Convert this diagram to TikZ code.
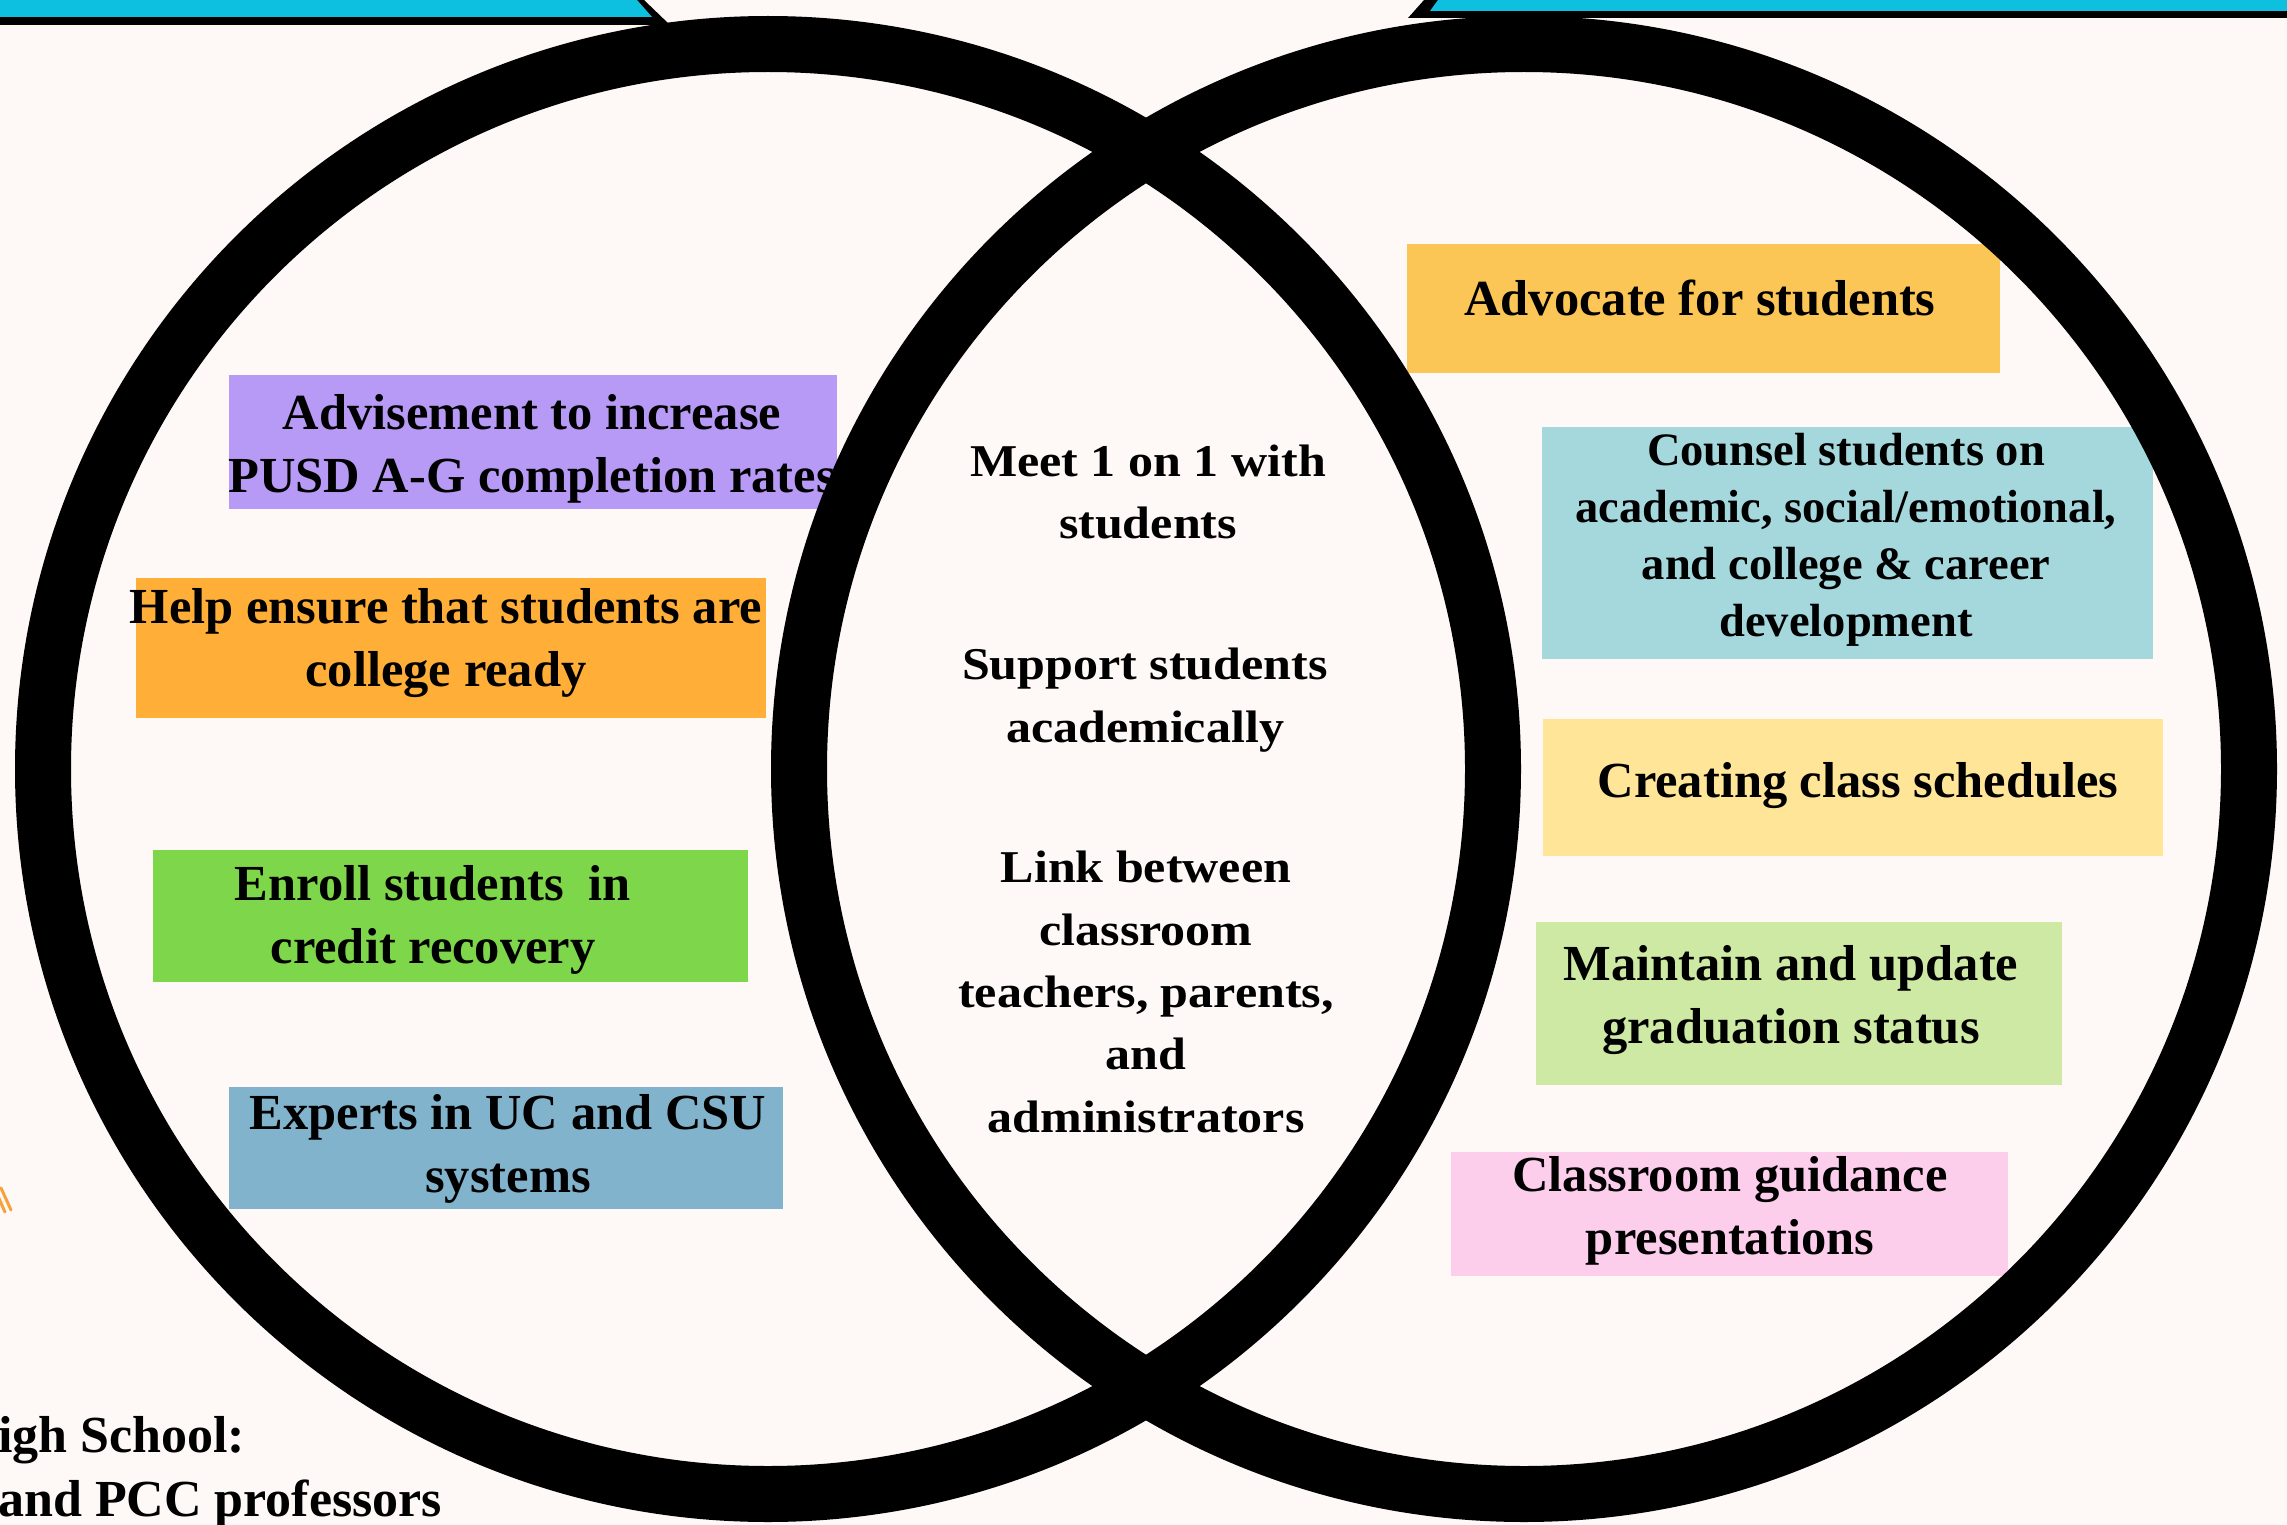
\documentclass[tikz,border=0pt]{standalone}
\usepackage{fontspec}
\setmainfont{Liberation Serif}
\newfontfamily\widefont[FakeStretch=1.1]{Liberation Serif}
\definecolor{bgc}{HTML}{FEF9F6}
\definecolor{cyanb}{HTML}{0DC0DF}
\definecolor{purp}{HTML}{B79AF5}
\definecolor{orng}{HTML}{FFAE37}
\definecolor{grn}{HTML}{7ED64A}
\definecolor{blu}{HTML}{82B3CC}
\definecolor{yel}{HTML}{FBC655}
\definecolor{teal2}{HTML}{A4D8DD}
\definecolor{ltyel}{HTML}{FFE598}
\definecolor{ltgrn}{HTML}{CDE9A3}
\definecolor{pnk}{HTML}{FDCDEC}
\definecolor{sketch}{HTML}{F6A13B}
\tikzset{
  boxfill/.style={rectangle, inner sep=0pt, draw=none},
  boxtext/.style={align=center, inner sep=0pt, font=\bfseries\fontsize{50.5}{63}\selectfont},
  smalltext/.style={align=center, inner sep=0pt, font=\bfseries\fontsize{46.5}{57}\selectfont},
  midtext/.style={align=center, inner sep=0pt, font=\widefont\bfseries\fontsize{45.5}{62.4}\selectfont},
  ring/.style={draw=black, line width=56pt},
}
\begin{document}
\begin{tikzpicture}[x=1pt, y=-1pt]
\useasboundingbox (0,0) rectangle (2287,1525);
\fill[bgc] (0,0) rectangle (2287,1525);
% top banners
\fill[black] (0,0) -- (644,0) -- (670,25) -- (0,25) -- cycle;
\fill[cyanb] (0,0) -- (637,0) -- (652,17) -- (0,17) -- cycle;
\fill[black] (1424,0) -- (2287,0) -- (2287,18) -- (1408,18) -- cycle;
\fill[cyanb] (1438,0) -- (2287,0) -- (2287,11) -- (1430,11) -- cycle;
% small sketch mark
\draw[sketch, line width=3pt, line cap=round] (1,1188) -- (11,1210);
\draw[sketch, line width=3pt, line cap=round] (-3,1194) -- (5,1212);
% boxes
\node[boxfill, fill=purp, minimum width=608pt, minimum height=134pt] (advbox) at (533,442) {};
\node[boxfill, fill=orng, minimum width=630pt, minimum height=140pt] (helpbox) at (451,648) {};
\node[boxfill, fill=grn, minimum width=595pt, minimum height=132pt] (enrollbox) at (450.5,916) {};
\node[boxfill, fill=blu, minimum width=554pt, minimum height=122pt] (expbox) at (506,1148) {};
\node[boxfill, fill=yel, minimum width=593pt, minimum height=129pt] (advocbox) at (1703.5,308.5) {};
\node[boxfill, fill=teal2, minimum width=611pt, minimum height=232pt] (counbox) at (1847.5,543) {};
\node[boxfill, fill=ltyel, minimum width=620pt, minimum height=137pt] (creatbox) at (1853,787.5) {};
\node[boxfill, fill=ltgrn, minimum width=526pt, minimum height=163pt] (maintbox) at (1799,1003.5) {};
\node[boxfill, fill=pnk, minimum width=557pt, minimum height=124pt] (classbox) at (1729.5,1214) {};
% rings
\draw[ring] (768,769) circle[radius=725];
\draw[ring] (1524,769) circle[radius=725];
% texts
\node[boxtext] (adv) at (532,449) {Advisement to increase\\PUSD A-G completion rates};
\node[boxtext] (help) at (446,643) {Help ensure that students are\\college ready};
\node[boxtext] (enroll) at (433,920) {Enroll students~ in\\credit recovery};
\node[boxtext] (exp) at (508,1149) {Experts in UC and CSU\\systems};
\node[boxtext] (advoc) at (1700,298) {Advocate for students};
\node[smalltext] (coun) at (1846,540) {Counsel students on\\academic, social/emotional,\\and college \& career\\development};
\node[boxtext] (creat) at (1858,786) {Creating class schedules};
\node[boxtext] (maint) at (1791,1000) {Maintain and update\\graduation status};
\node[boxtext] (class) at (1730,1211) {Classroom guidance\\presentations};
\node[midtext] (meet) at (1148,492) {Meet 1 on 1 with\\students};
\node[midtext] (supp) at (1145,700) {Support students\\academically};
\node[midtext] (link) at (1146,992) {Link between\\classroom\\teachers, parents,\\and\\administrators};
\node[boxtext, align=left, anchor=west, font=\bfseries\fontsize{52}{64}\selectfont] (hs) at (-2,1472) {igh School:\\and PCC professors};
\end{tikzpicture}
\end{document}
